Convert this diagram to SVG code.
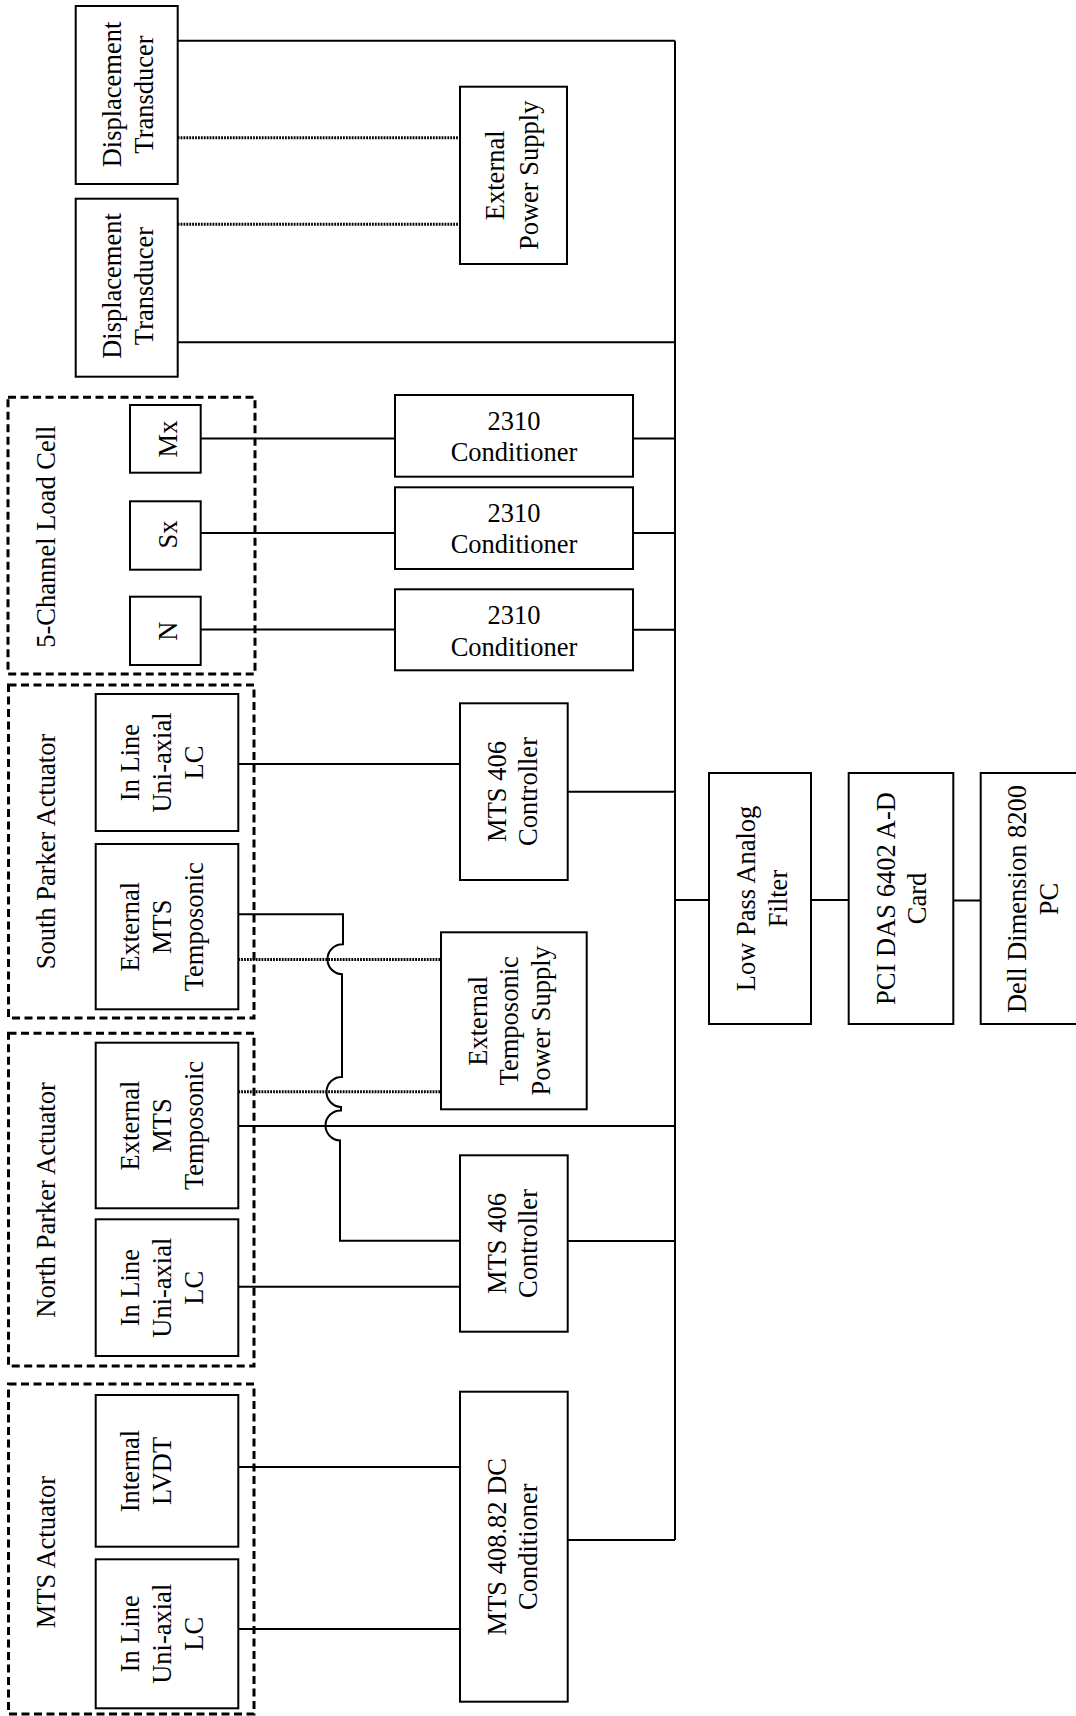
<svg xmlns="http://www.w3.org/2000/svg" width="1076" height="1716" viewBox="0 0 1076 1716">
<style>
.box{fill:#fff;stroke:#000;stroke-width:2}
.grp{fill:none;stroke:#000;stroke-width:3;stroke-dasharray:8 4.5}
.w{fill:none;stroke:#000;stroke-width:2}
.dot{fill:none;stroke:#000;stroke-width:3;stroke-dasharray:1.8 1.1}
text{font-family:"Liberation Serif","Times New Roman",serif;font-size:26.5px;fill:#000;text-anchor:middle}
</style>
<rect width="1076" height="1716" fill="#fff"/>
<g id="connectors">
<line class="w" x1="675" y1="40.7" x2="675" y2="1540"/>
<line class="w" x1="177.7" y1="40.7" x2="675" y2="40.7"/>
<line class="w" x1="177.7" y1="342.3" x2="675" y2="342.3"/>
<line class="dot" x1="177.7" y1="137.7" x2="460" y2="137.7"/>
<line class="dot" x1="177.7" y1="224.3" x2="460" y2="224.3"/>
<line class="w" x1="200.7" y1="438.5" x2="395" y2="438.5"/>
<line class="w" x1="633" y1="438.5" x2="675" y2="438.5"/>
<line class="w" x1="200.7" y1="533" x2="395" y2="533"/>
<line class="w" x1="633" y1="533" x2="675" y2="533"/>
<line class="w" x1="200.7" y1="629.5" x2="395" y2="629.5"/>
<line class="w" x1="633" y1="629.8" x2="675" y2="629.8"/>
<line class="w" x1="238.3" y1="764" x2="460" y2="764"/>
<line class="w" x1="567.7" y1="791.7" x2="675" y2="791.7"/>
<line class="w" x1="675" y1="900" x2="709" y2="900"/>
<line class="w" x1="811" y1="900" x2="848.7" y2="900"/>
<line class="w" x1="953.3" y1="900.5" x2="980.7" y2="900.5"/>
<path class="w" d="M238.3,914.3 H343 V944.3 A15,15 0 0,0 342,974.3 V1077 A15,15 0 0,0 341,1107 V1110.5 A15,15 0 0,0 340,1140.5 V1240.7 H460"/>
<line class="dot" x1="238.3" y1="959.5" x2="441" y2="959.5"/>
<line class="dot" x1="238.3" y1="1091.7" x2="441" y2="1091.7"/>
<line class="w" x1="238.3" y1="1126" x2="675" y2="1126"/>
<line class="w" x1="238.3" y1="1286.7" x2="460" y2="1286.7"/>
<line class="w" x1="567.7" y1="1241" x2="675" y2="1241"/>
<line class="w" x1="238.3" y1="1467" x2="460" y2="1467"/>
<line class="w" x1="238.3" y1="1629" x2="460" y2="1629"/>
<line class="w" x1="567.7" y1="1540" x2="675" y2="1540"/>
</g>
<g id="dt1"><rect class="box" x="75.7" y="6" width="102" height="178"/>
<text transform="translate(0,94.5) rotate(-90)"><tspan x="0" y="121">Displacement</tspan><tspan x="0" y="153.3">Transducer</tspan></text></g>
<g id="dt2"><rect class="box" x="75.7" y="198.7" width="102" height="178"/>
<text transform="translate(0,286) rotate(-90)"><tspan x="0" y="121">Displacement</tspan><tspan x="0" y="153.3">Transducer</tspan></text></g>
<g id="eps"><rect class="box" x="460" y="86.7" width="107" height="177.3"/>
<text transform="translate(0,175.3) rotate(-90)"><tspan x="0" y="504.3">External</tspan><tspan x="0" y="537.7">Power Supply</tspan></text></g>
<g id="loadcell"><rect class="grp" x="8" y="397.3" width="247" height="276.7"/>
<text transform="translate(0,536.7) rotate(-90)"><tspan x="0" y="55">5-Channel Load Cell</tspan></text></g>
<g id="mx"><rect class="box" x="130" y="405" width="70.7" height="67.7"/>
<text transform="translate(0,439) rotate(-90)"><tspan x="0" y="176.7">Mx</tspan></text></g>
<g id="sx"><rect class="box" x="130" y="501.3" width="70.7" height="68.4"/>
<text transform="translate(0,534.5) rotate(-90)"><tspan x="0" y="176.7">Sx</tspan></text></g>
<g id="n"><rect class="box" x="130" y="596.7" width="70.7" height="68.3"/>
<text transform="translate(0,631.2) rotate(-90)"><tspan x="0" y="176.7">N</tspan></text></g>
<g id="cond1"><rect class="box" x="395" y="395" width="238" height="81.7"/>
<text><tspan x="514" y="430">2310</tspan><tspan x="514" y="460.7">Conditioner</tspan></text></g>
<g id="cond2"><rect class="box" x="395" y="487.3" width="238" height="81.7"/>
<text><tspan x="514" y="521.7">2310</tspan><tspan x="514" y="553.3">Conditioner</tspan></text></g>
<g id="cond3"><rect class="box" x="395" y="589.3" width="238" height="81"/>
<text><tspan x="514" y="624">2310</tspan><tspan x="514" y="655.7">Conditioner</tspan></text></g>
<g id="south"><rect class="grp" x="8.5" y="685" width="245.5" height="333"/>
<text transform="translate(0,851.5) rotate(-90)"><tspan x="0" y="55">South Parker Actuator</tspan></text></g>
<g id="s_lc"><rect class="box" x="95.7" y="694" width="142.6" height="137"/>
<text transform="translate(0,762.5) rotate(-90)"><tspan x="0" y="139">In Line</tspan><tspan x="0" y="171">Uni-axial</tspan><tspan x="0" y="203">LC</tspan></text></g>
<g id="s_temp"><rect class="box" x="95.7" y="844" width="142.6" height="165.3"/>
<text transform="translate(0,926.7) rotate(-90)"><tspan x="0" y="139">External</tspan><tspan x="0" y="171">MTS</tspan><tspan x="0" y="203">Temposonic</tspan></text></g>
<g id="s_ctrl"><rect class="box" x="460" y="703.3" width="107.7" height="176.7"/>
<text transform="translate(0,791.5) rotate(-90)"><tspan x="0" y="506">MTS 406</tspan><tspan x="0" y="536.7">Controller</tspan></text></g>
<g id="etps"><rect class="box" x="441" y="932.3" width="145.7" height="177"/>
<text transform="translate(0,1020.8) rotate(-90)"><tspan x="0" y="486.7">External</tspan><tspan x="0" y="518.3">Temposonic</tspan><tspan x="0" y="550">Power Supply</tspan></text></g>
<g id="north"><rect class="grp" x="8.5" y="1033.3" width="245.5" height="332.7"/>
<text transform="translate(0,1200) rotate(-90)"><tspan x="0" y="55">North Parker Actuator</tspan></text></g>
<g id="n_temp"><rect class="box" x="95.7" y="1042.7" width="142.6" height="165.6"/>
<text transform="translate(0,1125.5) rotate(-90)"><tspan x="0" y="139">External</tspan><tspan x="0" y="171">MTS</tspan><tspan x="0" y="203">Temposonic</tspan></text></g>
<g id="n_lc"><rect class="box" x="95.7" y="1219.3" width="142.6" height="136.7"/>
<text transform="translate(0,1287.7) rotate(-90)"><tspan x="0" y="139">In Line</tspan><tspan x="0" y="171">Uni-axial</tspan><tspan x="0" y="203">LC</tspan></text></g>
<g id="n_ctrl"><rect class="box" x="460" y="1155.3" width="107.7" height="176.4"/>
<text transform="translate(0,1243.5) rotate(-90)"><tspan x="0" y="506">MTS 406</tspan><tspan x="0" y="536.7">Controller</tspan></text></g>
<g id="mts"><rect class="grp" x="8.5" y="1384" width="245.5" height="330"/>
<text transform="translate(0,1552) rotate(-90)"><tspan x="0" y="55">MTS Actuator</tspan></text></g>
<g id="lvdt"><rect class="box" x="95.7" y="1395" width="142.6" height="151.7"/>
<text transform="translate(0,1471) rotate(-90)"><tspan x="0" y="139">Internal</tspan><tspan x="0" y="171">LVDT</tspan></text></g>
<g id="m_lc"><rect class="box" x="95.7" y="1559.3" width="142.6" height="149"/>
<text transform="translate(0,1633.8) rotate(-90)"><tspan x="0" y="139">In Line</tspan><tspan x="0" y="171">Uni-axial</tspan><tspan x="0" y="203">LC</tspan></text></g>
<g id="dccond"><rect class="box" x="460" y="1391.7" width="107.7" height="310"/>
<text transform="translate(0,1546.7) rotate(-90)"><tspan x="0" y="506">MTS 408.82 DC</tspan><tspan x="0" y="536.7">Conditioner</tspan></text></g>
<g id="lpf"><rect class="box" x="709" y="773" width="102" height="251"/>
<text transform="translate(0,898.5) rotate(-90)"><tspan x="0" y="755">Low Pass Analog</tspan><tspan x="0" y="786.7">Filter</tspan></text></g>
<g id="pci"><rect class="box" x="848.7" y="773" width="104.6" height="251"/>
<text transform="translate(0,898.5) rotate(-90)"><tspan x="0" y="895">PCI DAS 6402 A-D</tspan><tspan x="0" y="926">Card</tspan></text></g>
<g id="pc"><rect class="box" x="980.7" y="773" width="110" height="251"/>
<text transform="translate(0,899) rotate(-90)"><tspan x="0" y="1026">Dell Dimension 8200</tspan><tspan x="0" y="1058.3">PC</tspan></text></g>
</svg>
